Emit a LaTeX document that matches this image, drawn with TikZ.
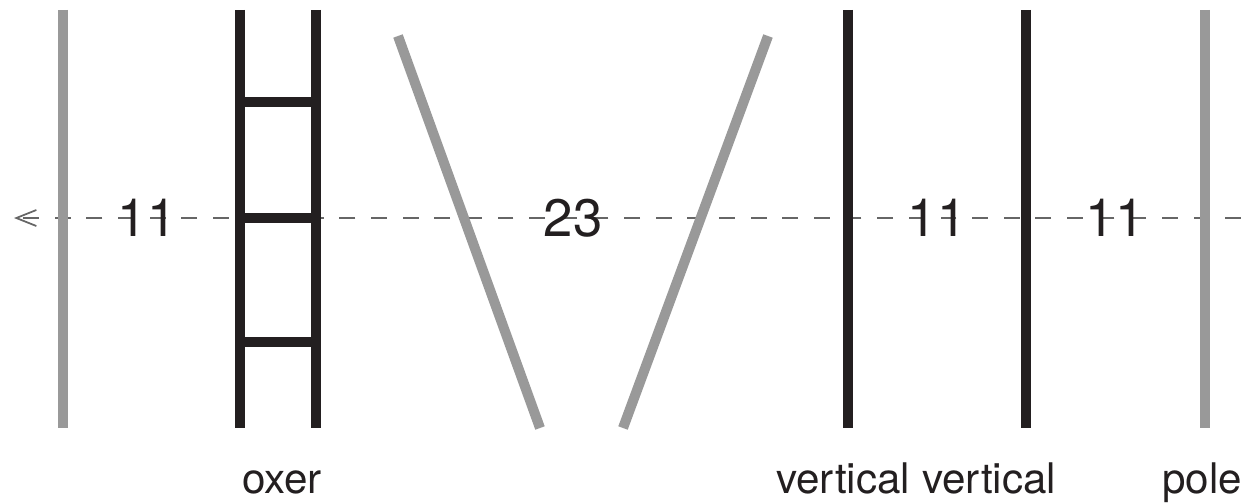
\documentclass[tikz,border=0pt]{standalone}
\usepackage{fontspec}
\setmainfont{TeX Gyre Heros}
\usetikzlibrary{arrows.meta}
\definecolor{polegray}{HTML}{999999}
\definecolor{rail}{HTML}{231F20}
\definecolor{dashgray}{HTML}{666666}
\begin{document}
\begin{tikzpicture}[x=0.2mm, y=-0.2mm,
    pole/.style={line width=5.7pt, polegray},
    bar/.style={line width=5.7pt, rail},
    distline/.style={line width=1.3pt, dashgray, dash pattern=on 9pt off 9pt},
    count/.style={font=\fontsize{30}{30}\selectfont, text=rail, inner sep=0pt},
    fencename/.style={font=\fontsize{24}{24}\selectfont, text=rail, inner sep=0pt, anchor=base}]
				 \useasboundingbox (0,0) rectangle (1241,503);
				 %\draw[color=gray,step=50, help lines,opacity=0.3] (0,0) grid (1241,503); %help grids
				 \coordinate (E) at (1241,218) ;
				 \coordinate (S) at (14,218) ;
				 \draw[distline, -{Straight Barb[length=4mm,width=3.2mm,line width=1pt]}] (E)--(S);
				 % poles
				 \draw[pole] (63,10)--(63,428);
				 \draw[pole] (1205,10)--(1205,428);
				 \draw[pole] (398,36)--(540,428);
				 \draw[pole] (768,36)--(623,428);
				 % oxer
				 \draw[bar] (240,10)--(240,428);
				 \draw[bar] (316,10)--(316,428);
				 \foreach \y in {102,218,342}
				 	\draw[bar] (240,\y)--(316,\y);
				 % verticals
				 \draw[bar] (848,10)--(848,428);
				 \draw[bar] (1026,10)--(1026,428);
				 % distances
				 \node[count] (d1) at (147,218) {11};
				 \node[count] (d2) at (573,218) {23};
				 \node[count] (d3) at (937,218) {11};
				 \node[count] (d4) at (1115,218) {11};
				 % names
				 \node[fencename] (oxer) at (282,493) {oxer};
				 \node[fencename] (vert1) at (843,493) {vertical};
				 \node[fencename] (vert2) at (989,493) {vertical};
				 \node[fencename] (pole) at (1202,493) {pole};
				\end{tikzpicture}
\end{document}
